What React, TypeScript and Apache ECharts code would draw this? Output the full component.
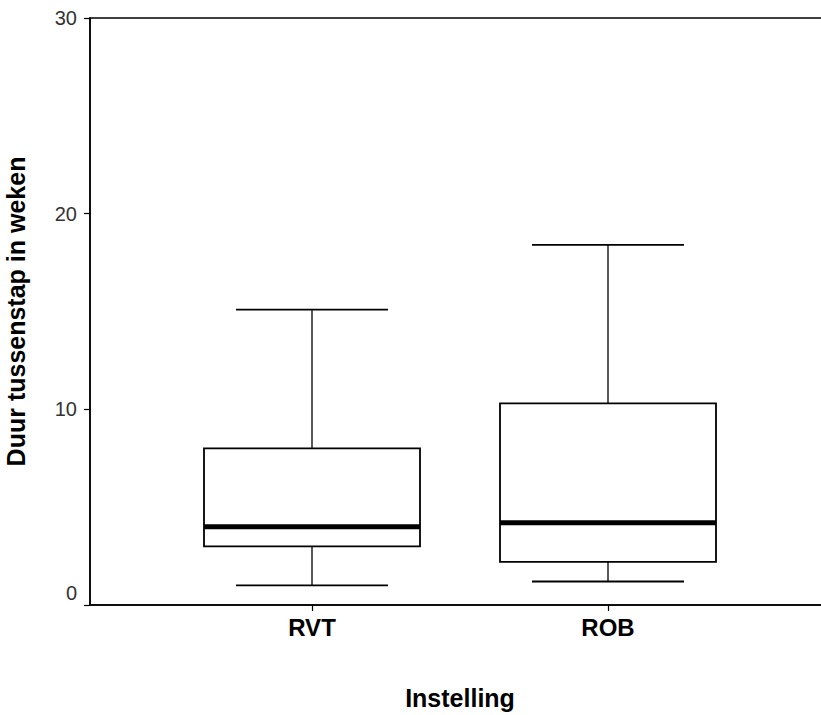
import React, { useEffect, useRef } from "react";
import * as echarts from "echarts";

// Category slots along the x axis (blank slots only space the two groups)
const categories = ["", "RVT", "", "ROB", ""];
const groups = ["RVT", "ROB"];
// Box statistics: [min, Q1, median, Q3, max] (weeks)
const rvtStats = [1.0, 3.0, 4.0, 8.0, 15.1];
const robStats = [1.2, 2.2, 4.2, 10.3, 18.4];
const yTicks = [0, 10, 20, 30];

const FONT = "'Liberation Sans', Arial, Helvetica, sans-serif";

export default function App() {
  const ref = useRef<HTMLDivElement>(null);

  useEffect(() => {
    if (!ref.current) return;
    const chart = echarts.init(ref.current, undefined, { renderer: "svg" });
    const statsList = [rvtStats, robStats];
    const seriesData = groups.map((g, i) => [categories.indexOf(g), ...statsList[i]]);

    const BOX_W = 216;
    const CAP_W = 152;

    chart.setOption({
      animation: false,
      backgroundColor: "#ffffff",
      grid: {
        left: 90,
        top: 18,
        width: 740,
        height: 587,
        outerBoundsMode: "none",
        containLabel: false,
        show: true,
        borderColor: "#000",
        borderWidth: 1.5,
        backgroundColor: "transparent",
      },
      xAxis: {
        type: "category",
        data: categories,
        name: "Instelling",
        nameLocation: "middle",
        nameGap: 80,
        nameTextStyle: { fontFamily: FONT, fontSize: 25, fontWeight: "bold", color: "#000" },
        axisLine: { show: true, lineStyle: { color: "#000", width: 1.5 } },
        axisTick: {
          show: true,
          alignWithLabel: true,
          length: 6,
          interval: (_i: number, v: string) => v !== "",
          lineStyle: { color: "#000", width: 1.2 },
        },
        axisLabel: {
          interval: 0,
          margin: 10,
          fontFamily: FONT,
          fontSize: 24,
          fontWeight: "bold",
          color: "#000",
        },
        splitLine: { show: false },
      },
      yAxis: {
        type: "value",
        min: yTicks[0],
        max: yTicks[yTicks.length - 1],
        interval: 10,
        name: "Duur tussenstap in weken",
        nameLocation: "middle",
        nameGap: 62,
        nameRotate: 90,
        nameTextStyle: { fontFamily: FONT, fontSize: 25, fontWeight: "bold", color: "#000" },
        axisLine: { show: true, lineStyle: { color: "#000", width: 1.5 } },
        axisTick: { show: true, inside: false, length: 6, lineStyle: { color: "#000", width: 1.2 } },
        axisLabel: {
          margin: 13,
          fontFamily: FONT,
          fontSize: 20,
          color: "#333",
          formatter: (v: number) => (v === 0 ? "{z|0}" : String(v)),
          rich: {
            z: { fontFamily: FONT, fontSize: 20, color: "#333", padding: [0, 0, 24, 0] },
          },
        },
        splitLine: { show: false },
      },
      series: [
        {
          type: "custom",
          data: seriesData,
          encode: { x: 0, y: [1, 2, 3, 4, 5] },
          renderItem: (_params: any, api: any) => {
            const x = api.value(0);
            const pMin = api.coord([x, api.value(1)]);
            const pQ1 = api.coord([x, api.value(2)]);
            const pMed = api.coord([x, api.value(3)]);
            const pQ3 = api.coord([x, api.value(4)]);
            const pMax = api.coord([x, api.value(5)]);
            const cx = pMin[0];
            const thin = { stroke: "#000", lineWidth: 1.3, fill: null };
            return {
              type: "group",
              children: [
                { type: "line", shape: { x1: cx, y1: pMax[1], x2: cx, y2: pQ3[1] }, style: thin },
                { type: "line", shape: { x1: cx, y1: pQ1[1], x2: cx, y2: pMin[1] }, style: thin },
                {
                  type: "line",
                  shape: { x1: cx - CAP_W / 2, y1: pMax[1], x2: cx + CAP_W / 2, y2: pMax[1] },
                  style: { stroke: "#000", lineWidth: 1.8 },
                },
                {
                  type: "line",
                  shape: { x1: cx - CAP_W / 2, y1: pMin[1], x2: cx + CAP_W / 2, y2: pMin[1] },
                  style: { stroke: "#000", lineWidth: 1.8 },
                },
                {
                  type: "rect",
                  shape: { x: cx - BOX_W / 2, y: pQ3[1], width: BOX_W, height: pQ1[1] - pQ3[1] },
                  style: { fill: "#fff", stroke: "#000", lineWidth: 1.8 },
                },
                {
                  type: "line",
                  shape: { x1: cx - BOX_W / 2, y1: pMed[1], x2: cx + BOX_W / 2, y2: pMed[1] },
                  style: { stroke: "#000", lineWidth: 5 },
                },
              ],
            };
          },
        },
      ],
    });

    return () => chart.dispose();
  }, []);

  return (
    <div
      ref={ref}
      style={{ position: "fixed", left: 0, top: 0, width: 821, height: 715, background: "#fff" }}
    />
  );
}
